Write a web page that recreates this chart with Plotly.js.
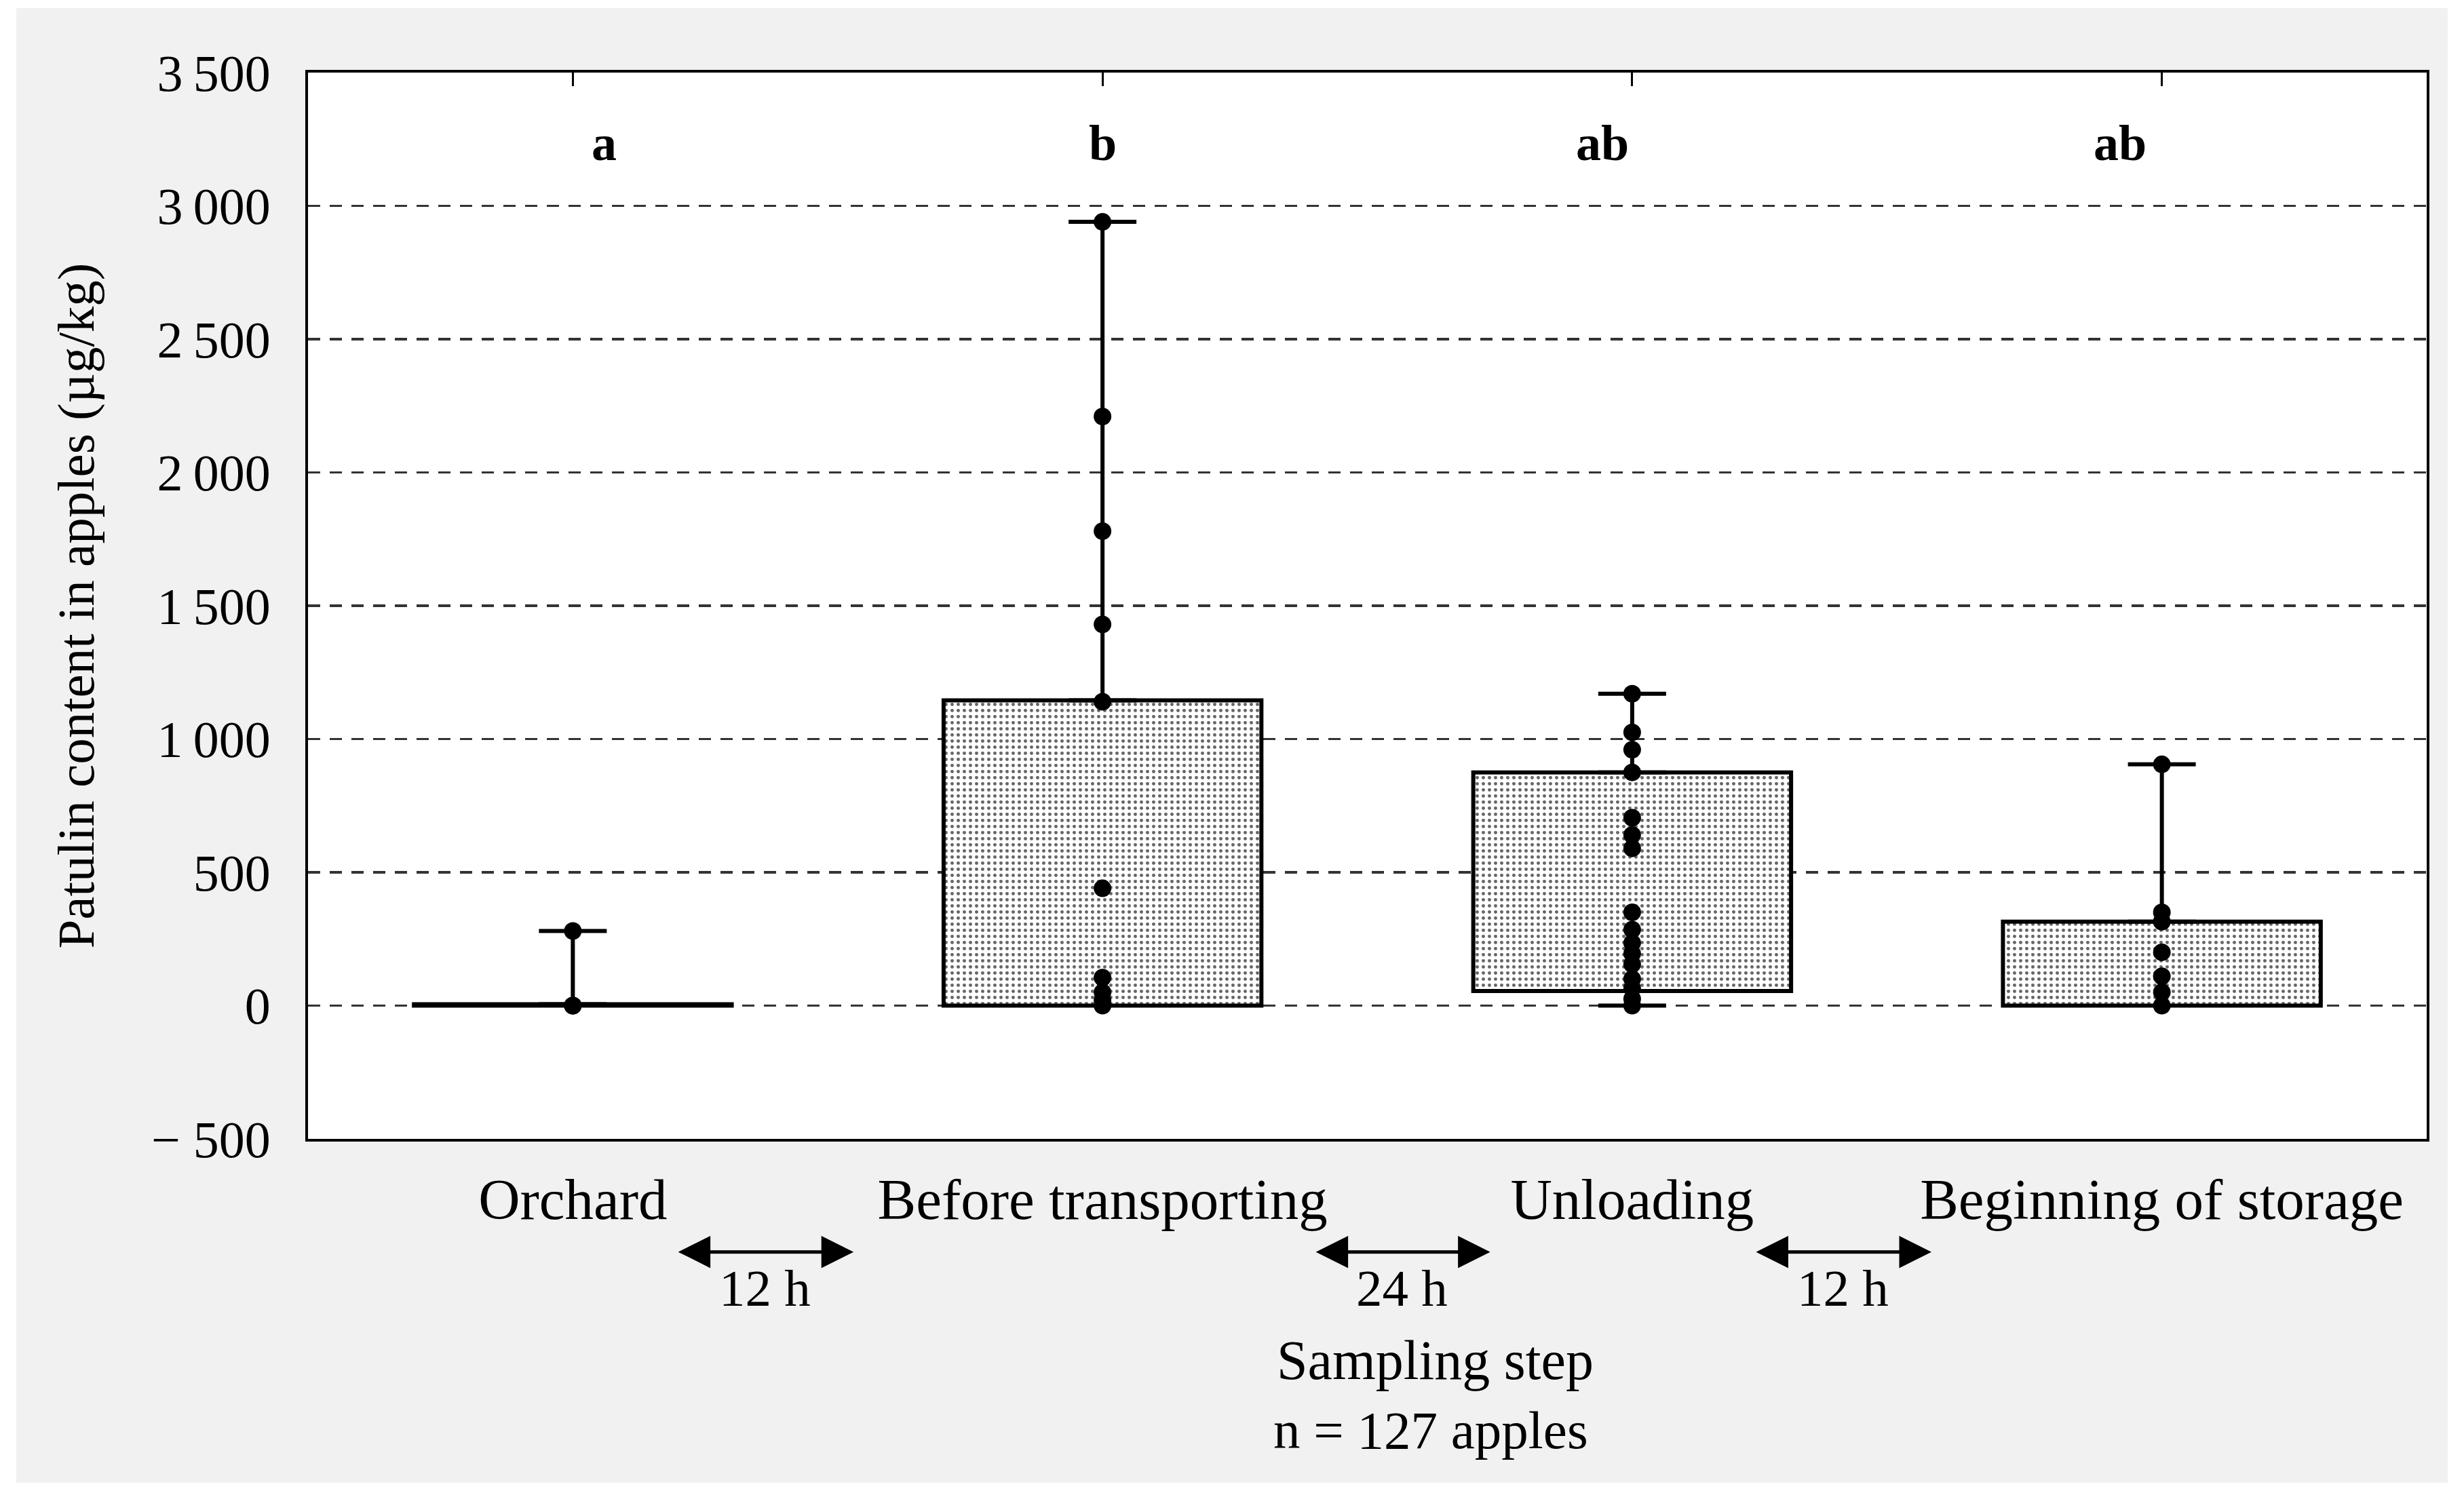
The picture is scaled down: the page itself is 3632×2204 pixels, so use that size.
<!DOCTYPE html>
<html>
<head>
<meta charset="utf-8">
<script src="https://cdn.plot.ly/plotly-3.0.1.min.js"></script>
<style>
html, body { margin: 0; padding: 0; background: #ffffff; width: 3632px; height: 2204px; overflow: hidden; }
#chart { position: absolute; left: 24px; top: 12px; width: 3584px; height: 2174px; }
</style>
</head>
<body>
<div id="chart"></div>
<script>
// ---- data ----
const categories = ['Orchard', 'Before transporting', 'Unloading', 'Beginning of storage'];
const barBase = [0, 0, 55, 0];
const barTop = [5, 1145, 875, 315];
const whiskerMin = [0, 0, 0, 0];
const whiskerMax = [280, 2940, 1170, 905];
const groupLetters = ['a', 'b', 'ab', 'ab'];
const ptsOrchard = [280, 0, 0, 0];
const ptsBefore = [2940, 2210, 1780, 1430, 1140, 440, 105, 50, 20, 0];
const ptsUnloading = [1170, 1025, 960, 875, 705, 640, 590, 350, 285, 235, 195, 155, 100, 65, 25, 0];
const ptsStorage = [905, 350, 315, 200, 110, 50, 0];
const yTickVals = [-500, 0, 500, 1000, 1500, 2000, 2500, 3000, 3500];
const yTickText = ['\u2212 500', '0', '500', '1\u2009000', '1\u2009500', '2\u2009000', '2\u2009500', '3\u2009000', '3\u2009500'];
const intervalLabels = ['12 h', '24 h', '12 h'];
const xTitleLines = ['Sampling step', 'n = 127 apples'];
const yTitle = 'Patulin content in apples (\u00b5g/kg)';

// ---- derived arrays for the library ----
const barHeights = barTop.map((t, i) => t - barBase[i]);
const upperWhisker = whiskerMax.map((m, i) => m - barTop[i]);
const zeros = barTop.map(() => 0);
const lowerY = barBase.map((b, i) => (whiskerMin[i] < b ? b : null));
const lowerWhisker = barBase.map((b, i) => b - whiskerMin[i]);
const ptGroups = [ptsOrchard, ptsBefore, ptsUnloading, ptsStorage];
const ptX = [], ptY = [];
ptGroups.forEach((g, i) => g.forEach(v => { ptX.push(categories[i]); ptY.push(v); }));

const FONT = 'Liberation Serif, Times New Roman, serif';

const traces = [
  {
    type: 'bar', x: categories, y: barHeights, base: barBase, width: 0.6,
    marker: {
      color: '#ffffff',
      line: { color: '#000000', width: 6 },
      pattern: { shape: '.', fgcolor: '#666666', bgcolor: '#ffffff', size: 9, solidity: 0.24, fillmode: 'replace' }
    },
    error_y: { type: 'data', symmetric: false, array: upperWhisker, arrayminus: zeros, color: '#000000', thickness: 6, width: 50 },
    showlegend: false, hoverinfo: 'skip'
  },
  {
    type: 'scatter', mode: 'markers', x: categories, y: lowerY,
    marker: { size: 1, opacity: 0 },
    error_y: { type: 'data', symmetric: false, array: zeros, arrayminus: lowerWhisker, color: '#000000', thickness: 6, width: 50 },
    showlegend: false, hoverinfo: 'skip'
  },
  {
    type: 'scatter', mode: 'markers', x: ptX, y: ptY,
    marker: { color: '#000000', size: 26, symbol: 'circle' },
    showlegend: false, hoverinfo: 'skip'
  },
  { type: 'scatter', mode: 'markers', x: [], y: [], xaxis: 'x2', yaxis: 'y', showlegend: false, hoverinfo: 'skip' }
];

const annotations = [];
const letterShift = [46, 0, -44, -62];
groupLetters.forEach((t, i) => annotations.push({
  xref: 'x', yref: 'y', x: categories[i], y: 3235, text: '<b>' + t + '</b>', showarrow: false,
  xshift: letterShift[i], font: { family: FONT, size: 74, color: '#000000' }
}));
const arrowSpans = [[0.195, 0.530], [1.399, 1.732], [2.230, 2.565]];
arrowSpans.forEach((s, i) => {
  annotations.push({
    xref: 'x', yref: 'paper', x: s[1], y: -0.106, axref: 'x', ax: s[0], ayref: 'pixel', ay: 0,
    showarrow: true, arrowside: 'end+start', arrowhead: 2, startarrowhead: 2,
    arrowsize: 1.9, startarrowsize: 1.9, arrowwidth: 5, arrowcolor: '#000000', standoff: 0, startstandoff: 0
  });
  annotations.push({
    xref: 'x', yref: 'paper', x: (s[0] + s[1]) / 2, y: -0.140, text: intervalLabels[i], showarrow: false,
    yanchor: 'middle', font: { family: FONT, size: 77, color: '#000000' }
  });
});
annotations.push({ xref: 'x', yref: 'paper', x: 1.628, y: -0.208, text: xTitleLines[0], showarrow: false, yanchor: 'middle', font: { family: FONT, size: 82, color: '#000000' } });
annotations.push({ xref: 'x', yref: 'paper', x: 1.620, y: -0.273, text: xTitleLines[1], showarrow: false, yanchor: 'middle', font: { family: FONT, size: 79, color: '#000000' } });

const layout = {
  width: 3584, height: 2174,
  margin: { l: 430, r: 31, t: 95, b: 507, pad: 0 },
  paper_bgcolor: '#f1f1f1', plot_bgcolor: '#ffffff',
  showlegend: false, bargap: 0.4,
  font: { family: FONT, color: '#000000' },
  xaxis: {
    type: 'category', range: [-0.5, 3.5], automargin: false,
    showline: true, mirror: true, linecolor: '#000000', linewidth: 4,
    ticks: '', showgrid: false, zeroline: false,
    tickfont: { family: FONT, size: 85, color: '#000000' }, ticklabelstandoff: 12
  },
  xaxis2: {
    type: 'linear', overlaying: 'x', side: 'top', anchor: 'y', range: [-0.5, 3.5],
    tickvals: [0, 1, 2, 3], ticks: 'inside', ticklen: 20, tickwidth: 3, tickcolor: '#000000',
    showticklabels: false, showgrid: false, zeroline: false, showline: false
  },
  yaxis: {
    range: [-500, 3500], automargin: false,
    tickvals: yTickVals, ticktext: yTickText,
    showline: true, mirror: true, linecolor: '#000000', linewidth: 4,
    ticks: '', zeroline: false,
    showgrid: true, gridcolor: '#333333', gridwidth: 3.5, griddash: '18px,14px',
    tickfont: { family: FONT, size: 76, color: '#000000' }, ticklabelstandoff: 36,
    title: { text: yTitle, font: { family: FONT, size: 77, color: '#000000' }, standoff: 60 }
  },
  annotations: annotations
};

Plotly.newPlot('chart', traces, layout, { displayModeBar: false, staticPlot: true });
</script>
</body>
</html>
